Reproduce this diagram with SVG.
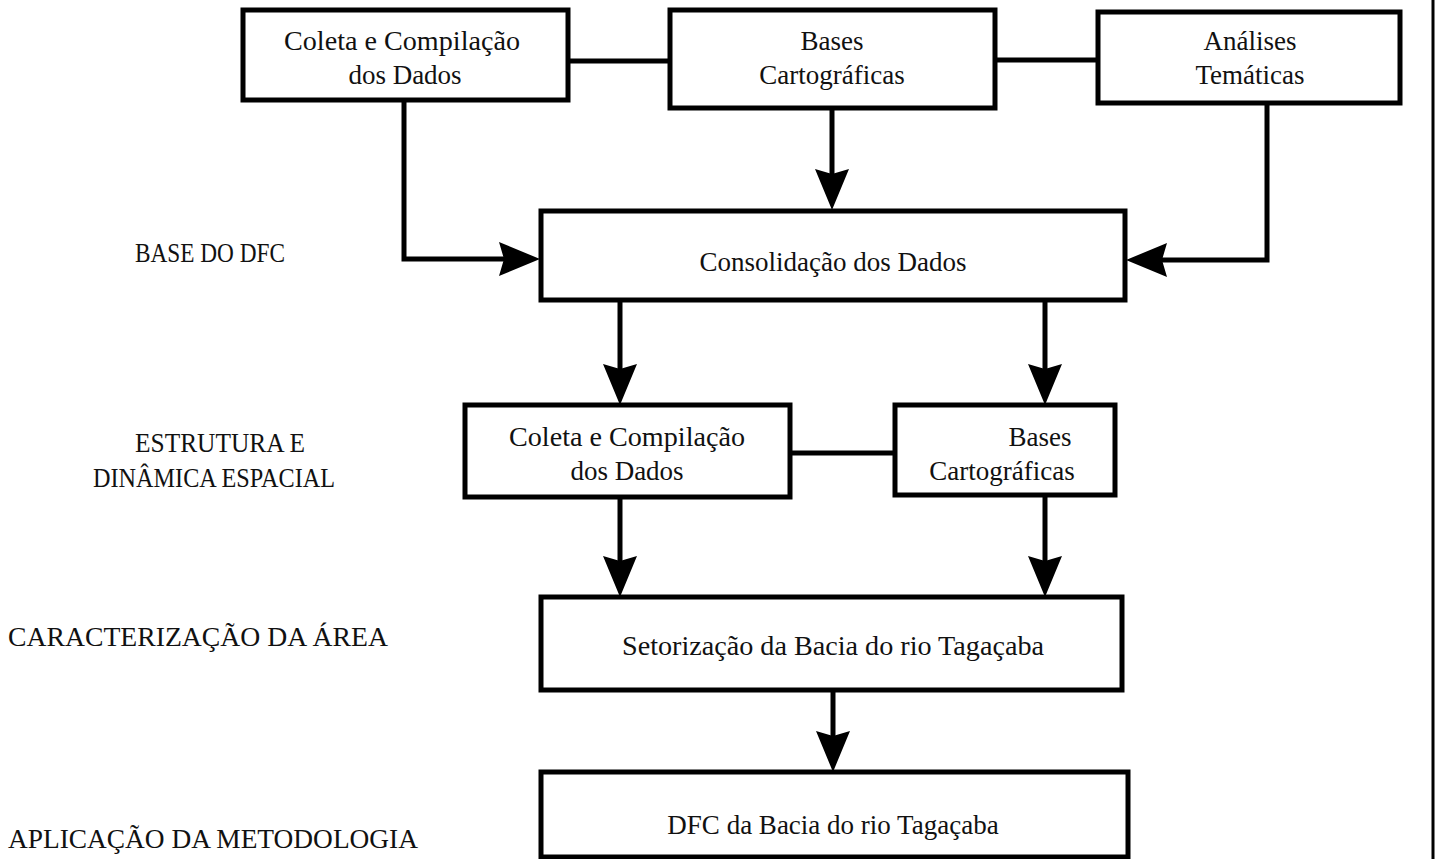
<svg xmlns="http://www.w3.org/2000/svg" width="1436" height="859" viewBox="0 0 1436 859">
<style>
.box{fill:#fff;stroke:#000;stroke-width:5}
.t{font-family:"Liberation Serif","Times New Roman",serif;font-size:27px;fill:#111;text-anchor:middle}
.l{font-family:"Liberation Serif","Times New Roman",serif;font-size:27px;fill:#111}
.c{fill:none;stroke:#000;stroke-width:5}
</style>
<defs>
<marker id="ah" markerUnits="userSpaceOnUse" orient="auto" refX="0" refY="0" markerWidth="60" markerHeight="60" overflow="visible">
<path d="M34,0 L-7,-17 L-2,0 L-7,17 Z" fill="#000"/>
</marker>
</defs>
<rect width="1436" height="859" fill="#fff"/>
<line x1="1433" y1="0" x2="1433" y2="859" stroke="#000" stroke-width="3"/>

<g id="connectors">
<line class="c" x1="568" y1="61" x2="670" y2="61"/>
<line class="c" x1="995" y1="60" x2="1098" y2="60"/>
<path class="c" d="M404,100 V259 H506" marker-end="url(#ah)"/>
<path class="c" d="M832,108 V176" marker-end="url(#ah)"/>
<path class="c" d="M1267,103 V260 H1160" marker-end="url(#ah)"/>
<path class="c" d="M620,300 V371" marker-end="url(#ah)"/>
<path class="c" d="M1045,300 V371" marker-end="url(#ah)"/>
<line class="c" x1="790" y1="453" x2="895" y2="453"/>
<path class="c" d="M620,497 V563" marker-end="url(#ah)"/>
<path class="c" d="M1045,495 V563" marker-end="url(#ah)"/>
<path class="c" d="M833,690 V738" marker-end="url(#ah)"/>
</g>

<g id="n1"><rect class="box" x="243" y="10" width="325" height="90"/>
<text class="t" x="402" y="50" textLength="236" lengthAdjust="spacingAndGlyphs">Coleta  e Compilação</text><text class="t" x="405" y="84">dos Dados</text></g>
<g id="n2"><rect class="box" x="670" y="10" width="325" height="98"/>
<text class="t" x="832" y="50">Bases</text><text class="t" x="832" y="84">Cartográficas</text></g>
<g id="n3"><rect class="box" x="1098" y="12" width="302" height="91"/>
<text class="t" x="1250" y="50">Análises</text><text class="t" x="1250" y="84">Temáticas</text></g>
<g id="n4"><rect class="box" x="541" y="211" width="584" height="89"/>
<text class="t" x="833" y="271">Consolidação dos Dados</text></g>
<g id="n5"><rect class="box" x="465" y="405" width="325" height="92"/>
<text class="t" x="627" y="446" textLength="236" lengthAdjust="spacingAndGlyphs">Coleta  e Compilação</text><text class="t" x="627" y="480">dos Dados</text></g>
<g id="n6"><rect class="box" x="895" y="405" width="220" height="90"/>
<text class="t" x="1040" y="446">Bases</text><text class="t" x="1002" y="480">Cartográficas</text></g>
<g id="n7"><rect class="box" x="541" y="597" width="581" height="93"/>
<text class="t" x="833" y="655" textLength="422" lengthAdjust="spacingAndGlyphs">Setorização da Bacia do rio Tagaçaba</text></g>
<g id="n8"><rect class="box" x="541" y="772" width="587" height="85"/>
<text class="t" x="833" y="834">DFC da Bacia do rio Tagaçaba</text></g>

<g id="labels">
<text class="l" x="135" y="262" font-size="24" textLength="150" lengthAdjust="spacingAndGlyphs">BASE DO DFC</text>
<text class="l" x="135" y="452" font-size="25" textLength="170" lengthAdjust="spacingAndGlyphs">ESTRUTURA E</text>
<text class="l" x="93" y="487" font-size="24.5" textLength="242" lengthAdjust="spacingAndGlyphs">DINÂMICA ESPACIAL</text>
<text class="l" x="8" y="646" textLength="380" lengthAdjust="spacingAndGlyphs">CARACTERIZAÇÃO DA ÁREA</text>
<text class="l" x="8" y="848" textLength="410" lengthAdjust="spacingAndGlyphs">APLICAÇÃO DA METODOLOGIA</text>
</g>
</svg>
